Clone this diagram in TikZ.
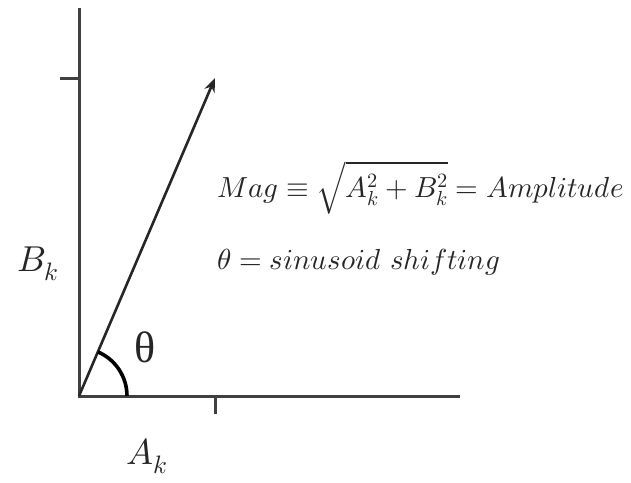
\documentclass[tikz,border=0pt]{standalone}
\usepackage{amsmath}
\usepackage{unicode-math}
\setmathfont{Latin Modern Math}
\newfontfamily\grk{Liberation Serif}
\usetikzlibrary{arrows.meta}
\begin{document}
\begin{tikzpicture}[x=1pt,y=-1pt,
  axis/.style={draw=black!75,line width=3pt},
  vec/.style={draw=black!85,line width=2.6pt,-{Stealth[length=14pt,width=11pt]}},
  anglearc/.style={draw=black,line width=3.6pt},
  lbl/.style={inner sep=0pt,text=black!85}]
\useasboundingbox (0,0) rectangle (631,482);
\coordinate (O) at (79,396);
\coordinate (ytop) at (79,8);
\coordinate (xend) at (460,396);
\coordinate (tip) at (215,78);
\coordinate (yt1) at (60,78);
\coordinate (yt2) at (79,78);
\coordinate (xt1) at (215,396);
\coordinate (xt2) at (215,414);
\draw[axis] (ytop) -- (O) -- (xend);
\draw[axis] (yt1) -- (yt2);
\draw[axis] (xt1) -- (xt2);
\draw[vec] (O) -- (tip);
\draw[anglearc] (127,396) arc[start angle=0,end angle=-66.8,radius=48];
\node[lbl,font=\fontsize{44}{50}\selectfont] (theta) at (145,347) {\grk θ};
\node[lbl,font=\fontsize{36}{42}\selectfont] (Ak) at (147,456) {$A_k$};
\node[lbl,font=\fontsize{36}{42}\selectfont] (Bk) at (38,264) {$B_k$};
\node[lbl,anchor=west,font=\fontsize{29}{33}\selectfont] (mag) at (217,188) {$Mag \equiv \sqrt{A_k^2+B_k^2} = Amplitude$};
\node[lbl,anchor=west,font=\fontsize{29}{33}\selectfont] (shift) at (217,262) {$\theta = sinusoid\ shifting$};
\end{tikzpicture}
\end{document}
